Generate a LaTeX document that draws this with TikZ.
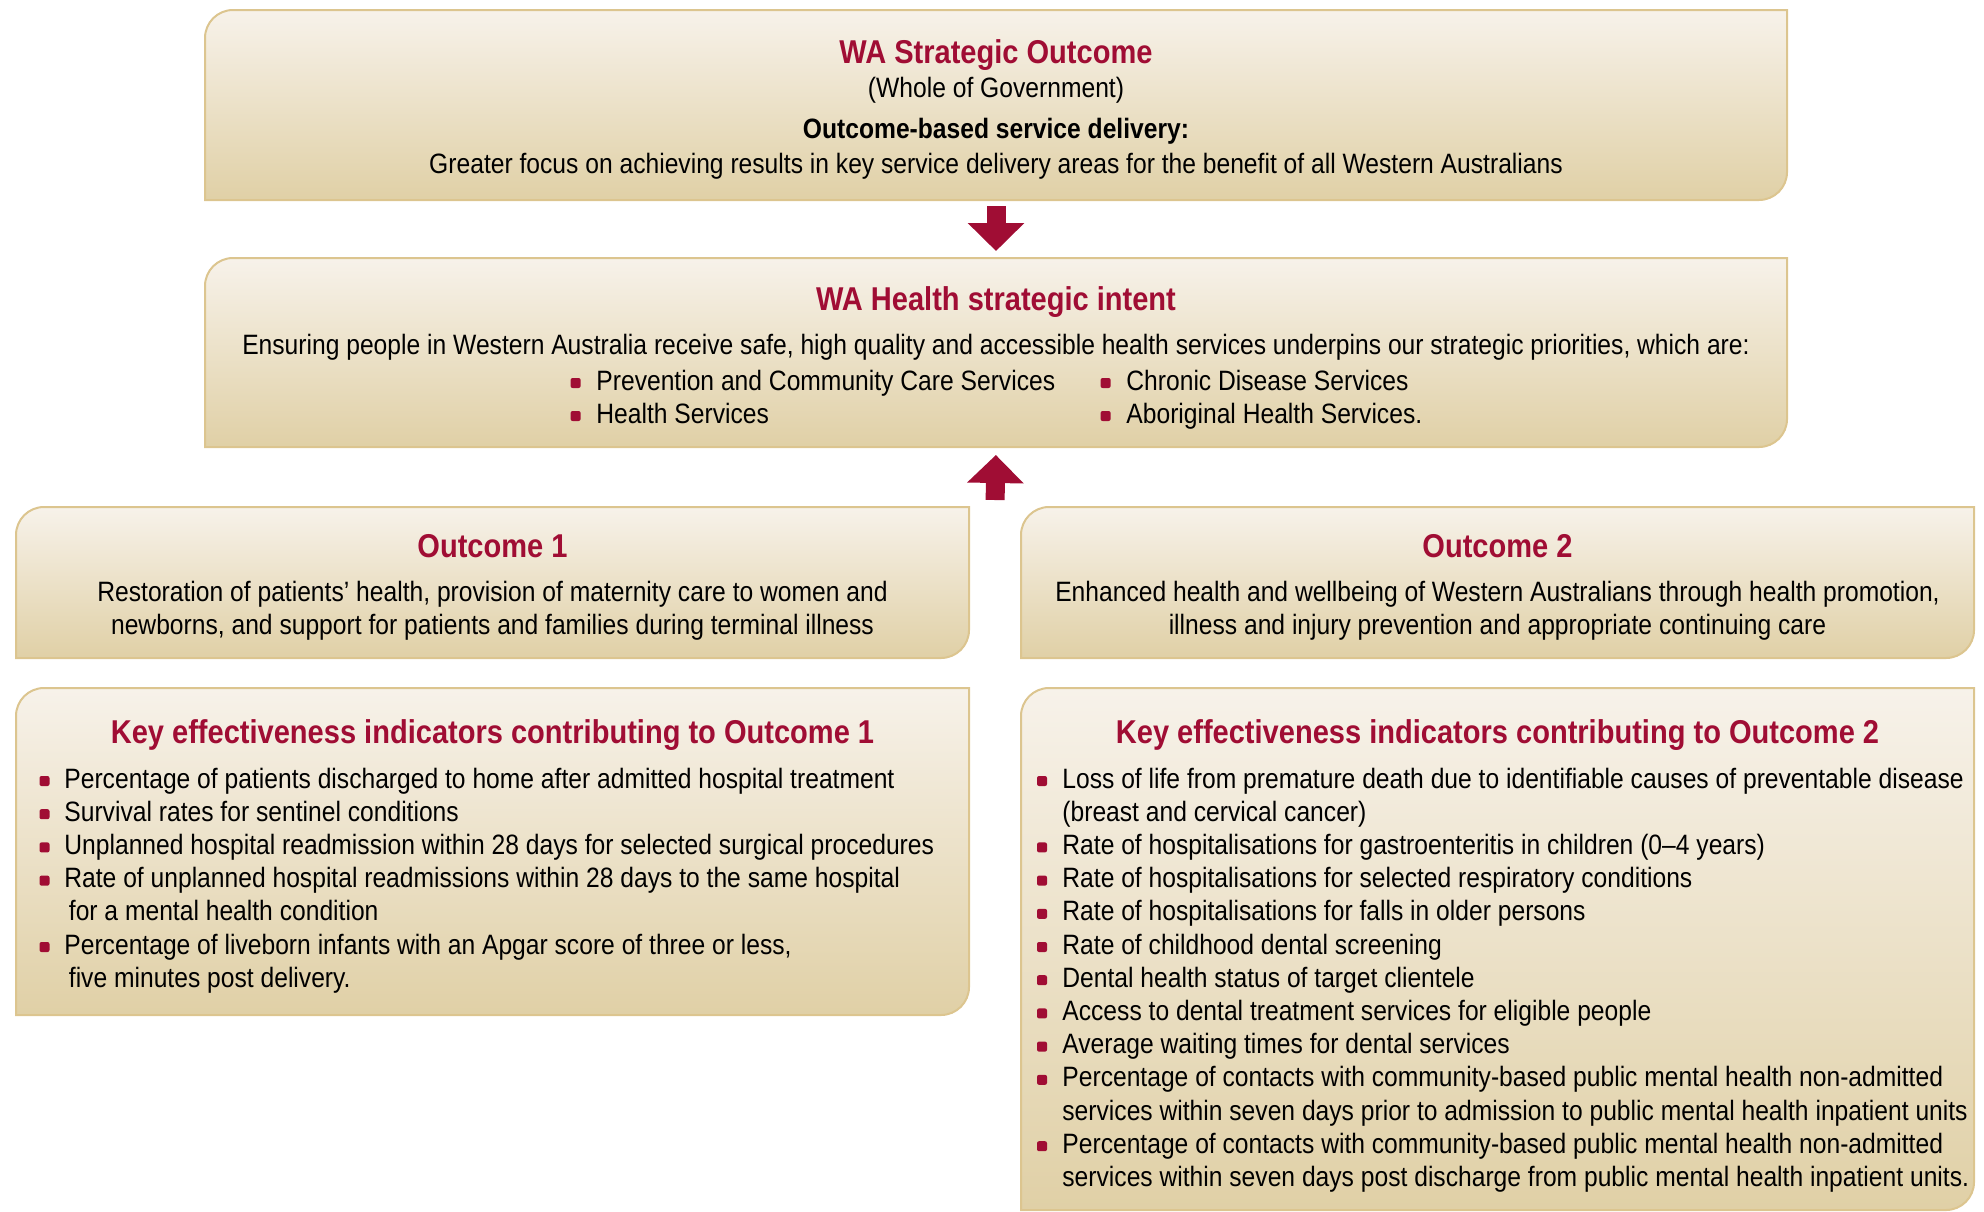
\documentclass[tikz,border=0pt]{standalone}
\usepackage{fontspec}
\setmainfont{Liberation Sans}[FakeStretch=0.88]
\usepackage{xcolor}
\usepackage{tikz}
\usetikzlibrary{arrows.meta,positioning,calc,fit}

\definecolor{wared}{HTML}{A00D34}
\definecolor{paneltop}{HTML}{F7F2EA}
\definecolor{panelbot}{HTML}{E0D0A6}
\definecolor{panelline}{HTML}{DCC58F}

% panel outline: rounded top-left and bottom-right corners only
\newcommand{\panelshape}[1]{%
  \path[panel] (#1.south west) -- ($(#1.north west)+(0,-14pt)$)
    arc[start angle=180, end angle=90, radius=14pt]
    -- (#1.north east) -- ($(#1.south east)+(0,14pt)$)
    arc[start angle=0, end angle=-90, radius=14pt] -- cycle;}

\begin{document}
\begin{tikzpicture}[
    x=0.5pt, y=-0.5pt,
    box/.style={inner sep=0, outer sep=0},
    panel/.style={draw=panelline, line width=1pt, top color=paneltop, bottom color=panelbot},
    title/.style={anchor=base, inner sep=0, text=wared, font=\fontsize{16.5}{19}\selectfont\bfseries},
    body/.style={anchor=base, inner sep=0, font=\fontsize{14}{16.6}\selectfont},
    item/.style={body, anchor=base west},
    bullet/.style={rectangle, rounded corners=1pt, fill=wared, minimum size=5pt, inner sep=0},
    bigarrow/.style={draw=wared, line width=9.5pt, line cap=butt,
                     -{Triangle[length=14pt, width=27.5pt]}}
]
\useasboundingbox (0,0) rectangle (1984,1211);

% panels
\node[box, fit={(205,10) (1787,200)}] (strat) {};
\node[box, fit={(205,258) (1787,447)}] (intent) {};
\node[box, fit={(16,507) (969,658)}] (out1) {};
\node[box, fit={(1021,507) (1974,658)}] (out2) {};
\node[box, fit={(16,688) (969,1015)}] (kei1) {};
\node[box, fit={(1021,688) (1974,1210)}] (kei2) {};
\foreach \p in {strat,intent,out1,out2,kei1,kei2} {\panelshape{\p}}

\draw[bigarrow, shorten <=3pt, shorten >=3.5pt] (strat) -- (intent);
\coordinate (gap) at ($(out1.north east)!0.5!(out2.north west)$);
\draw[bigarrow, shorten <=3.5pt, shorten >=4pt] (gap) -- (intent.south);

% WA strategic outcome
\node[title] (stratT) at (996,63) {WA Strategic Outcome};
\node[body] (stratS) at (996,97) {(Whole of Government)};
\node[body, font=\fontsize{14}{16.6}\selectfont\bfseries] (stratH) at (996,138) {Outcome-based service delivery:};
\node[body] (stratB) at (996,173) {Greater focus on achieving results in key service delivery areas for the benefit of all Western Australians};

% health strategic intent
\node[title] (intentT) at (996,310) {WA Health strategic intent};
\node[body] (intentB) at (996,354) {Ensuring people in Western Australia receive safe, high quality and accessible health services underpins our strategic priorities, which are:};
\foreach \x/\y/\txt [count=\i] in {596/390/{Prevention and Community Care Services},
    596/423/{Health Services}, 1126/390/{Chronic Disease Services},
    1126/423/{Aboriginal Health Services.}} {
  \node[item] (prio\i) at (\x,\y) {\txt};
  \node[bullet, left=7.5pt of prio\i.base west, yshift=3.5pt] (prioB\i) {};
}

% outcomes
\node[title] (out1T) at (492.5,557) {Outcome 1};
\node[body] (out1a) at (492.5,601) {Restoration of patients’ health, provision of maternity care to women and};
\node[body] (out1b) at (492.5,634) {newborns, and support for patients and families during terminal illness};
\node[title] (out2T) at (1497.5,557) {Outcome 2};
\node[body] (out2a) at (1497.5,601) {Enhanced health and wellbeing of Western Australians through health promotion,};
\node[body] (out2b) at (1497.5,634) {illness and injury prevention and appropriate continuing care};

% key effectiveness indicators, Outcome 1
\node[title] (kei1T) at (492.5,743) {Key effectiveness indicators contributing to Outcome 1};
\foreach \i/\x/\txt in {0/64/{Percentage of patients discharged to home after admitted hospital treatment},
    1/64/{Survival rates for sentinel conditions},
    2/64/{Unplanned hospital readmission within 28 days for selected surgical procedures},
    3/64/{Rate of unplanned hospital readmissions within 28 days to the same hospital},
    4/68.5/{for a mental health condition},
    5/64/{Percentage of liveborn infants with an Apgar score of three or less,},
    6/68.5/{five minutes post delivery.}}
  \node[item] (kA\i) at (\x,{788+33.2*\i}) {\txt};
\foreach \i in {0,1,2,3,5}
  \node[bullet] (kAb\i) at (44.5,{781+33.2*\i}) {};

% key effectiveness indicators, Outcome 2
\node[title] (kei2T) at (1497.5,743) {Key effectiveness indicators contributing to Outcome 2};
\foreach \i/\txt in {0/{Loss of life from premature death due to identifiable causes of preventable disease},
    1/{(breast and cervical cancer)},
    2/{Rate of hospitalisations for gastroenteritis in children (0–4 years)},
    3/{Rate of hospitalisations for selected respiratory conditions},
    4/{Rate of hospitalisations for falls in older persons},
    5/{Rate of childhood dental screening},
    6/{Dental health status of target clientele},
    7/{Access to dental treatment services for eligible people},
    8/{Average waiting times for dental services},
    9/{Percentage of contacts with community-based public mental health non-admitted},
    10/{services within seven days prior to admission to public mental health inpatient units},
    11/{Percentage of contacts with community-based public mental health non-admitted},
    12/{services within seven days post discharge from public mental health inpatient units.}}
  \node[item] (kB\i) at (1062,{788+33.2*\i}) {\txt};
\foreach \i in {0,2,3,4,5,6,7,8,9,11}
  \node[bullet] (kBb\i) at (1042,{781+33.2*\i}) {};
\end{tikzpicture}
\end{document}
